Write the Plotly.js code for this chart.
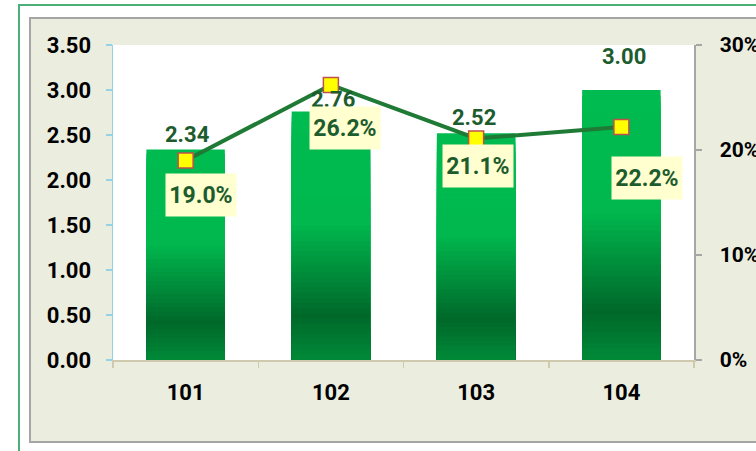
<!DOCTYPE html>
<html>
<head>
<meta charset="utf-8">
<script src="https://cdn.plot.ly/plotly-3.0.1.min.js"></script>
<style>
  html, body { margin: 0; padding: 0; background: #ffffff; }
  #chart { width: 756px; height: 451px; }
</style>
</head>
<body>
<div id="chart"></div>
<script>
// ---- data ----
const categories = ['101', '102', '103', '104'];
const values = [2.34, 2.76, 2.52, 3.00];
const growth = [0.190, 0.262, 0.211, 0.222];
const leftTickVals = [0, 0.5, 1.0, 1.5, 2.0, 2.5, 3.0, 3.5];
const rightTickVals = [0, 0.1, 0.2, 0.3];

// ---- style ----
const FONT = 'Roboto, "Noto Sans", sans-serif';
const labelGreen = '#1d5c2d';
const valueLabelShift = [[2, 15], [2, 12], [-2, 16], [3, 34]];
const pctLabelShift = [[15, -34], [14, -43], [2, -28], [26, -51]];
// gradient stops from bar top (0) to bar bottom (1)
const stops = [
  [0.00, [0, 187, 80]],
  [0.45, [0, 184, 78]],
  [0.82, [0, 104, 42]],
  [1.00, [0, 138, 56]]
];
const BANDS = 48;

function colorAt(f) {
  for (let i = 0; i < stops.length - 1; i++) {
    const [f0, c0] = stops[i], [f1, c1] = stops[i + 1];
    if (f >= f0 && f <= f1) {
      const t = (f - f0) / (f1 - f0 || 1);
      const c = c0.map((v, k) => Math.round(v + (c1[k] - v) * t));
      return 'rgb(' + c.join(',') + ')';
    }
  }
  const c = stops[stops.length - 1][1];
  return 'rgb(' + c.join(',') + ')';
}

const traces = [];
// overlay bars from zero, tallest first, emulate the vertical gradient
for (let k = 0; k < BANDS; k++) {
  const f = k / BANDS;
  traces.push({
    type: 'bar',
    x: categories,
    y: values.map(v => v * (1 - f)),
    width: 0.54,
    marker: { color: colorAt(f + 0.5 / BANDS), line: { width: 0 } },
    hoverinfo: 'skip',
    showlegend: false
  });
}

traces.push({
  type: 'scatter',
  mode: 'lines+markers',
  x: categories,
  y: growth,
  yaxis: 'y2',
  line: { color: '#1e7a34', width: 4 },
  marker: { symbol: 'square', size: 15, color: '#ffff00', line: { color: '#c0504d', width: 1.5 } },
  showlegend: false
});

const annotations = [];
categories.forEach((c, i) => {
  // category index position (avoid numeric-looking category names being read as numbers)
  annotations.push({
    x: i, y: values[i], xref: 'x', yref: 'y',
    text: values[i].toFixed(2),
    showarrow: false, xanchor: 'center', yanchor: 'middle',
    xshift: valueLabelShift[i][0], yshift: valueLabelShift[i][1],
    font: { family: FONT, size: 22, color: labelGreen, weight: 'bold' }
  });
  annotations.push({
    x: i, y: growth[i], xref: 'x', yref: 'y2',
    text: (growth[i] * 100).toFixed(1) + '%',
    showarrow: false, xanchor: 'center', yanchor: 'middle',
    xshift: pctLabelShift[i][0], yshift: pctLabelShift[i][1],
    bgcolor: '#ffffd0', width: 70, height: 42, borderpad: 0,
    font: { family: FONT, size: 23, color: labelGreen, weight: 'bold' }
  });
});

const L = 113, R = 694, T = 45, B = 360, W = 756, H = 451;
const px = x => (x - L) / (R - L);
const py = y => (B - y) / (B - T);

const layout = {
  width: W, height: H,
  margin: { l: L, r: W - R, t: T, b: H - B, pad: 0 },
  paper_bgcolor: '#ffffff',
  plot_bgcolor: '#ffffff',
  barmode: 'overlay',
  font: { family: FONT, size: 22, color: '#000000', weight: 'bold' },
  xaxis: {
    type: 'category',
    categoryorder: 'array', categoryarray: categories,
    range: [-0.5, categories.length - 0.5],
    showline: true, linecolor: '#cfc9ad', linewidth: 1.5,
    ticks: 'outside', tickson: 'boundaries', ticklen: 6, tickcolor: '#cfc9ad', tickwidth: 1.5,
    showgrid: false, zeroline: false,
    tickfont: { family: FONT, size: 22, color: '#000000', weight: 'bold' },
    ticklabelstandoff: 12
  },
  yaxis: {
    range: [0, 3.5],
    tickvals: leftTickVals, tickformat: '.2f',
    showline: true, linecolor: '#92d3e8', linewidth: 1.5,
    ticks: 'outside', ticklen: 6, tickcolor: '#92d3e8', tickwidth: 1.5,
    showgrid: false, zeroline: false,
    tickfont: { family: FONT, size: 22, color: '#000000', weight: 'bold' },
    ticklabelstandoff: 10
  },
  yaxis2: {
    overlaying: 'y', side: 'right',
    range: [0, 0.30],
    tickvals: rightTickVals, tickformat: '.0%',
    showline: true, linecolor: '#a6a6a6', linewidth: 1.5,
    ticks: 'outside', ticklen: 6, tickcolor: '#a6a6a6', tickwidth: 1.5,
    showgrid: false, zeroline: false,
    tickfont: { family: FONT, size: 21, color: '#000000', weight: 'bold' },
    ticklabelstandoff: 14
  },
  shapes: [
    { type: 'rect', xref: 'paper', yref: 'paper', layer: 'below',
      x0: px(19), x1: px(800), y0: py(500), y1: py(5),
      fillcolor: '#ffffff', line: { color: '#4caf78', width: 2 } },
    { type: 'rect', xref: 'paper', yref: 'paper', layer: 'below',
      x0: px(30), x1: px(800), y0: py(442), y1: py(18),
      fillcolor: '#ebeddf', line: { color: '#a5a5a5', width: 2 } },
    { type: 'rect', xref: 'paper', yref: 'paper', layer: 'below',
      x0: 0, x1: 1, y0: 0, y1: 1,
      fillcolor: '#ffffff', line: { width: 0 } }
  ],
  annotations: annotations,
  showlegend: false
};

Plotly.newPlot('chart', traces, layout, { displayModeBar: false, staticPlot: true });
</script>
</body>
</html>
